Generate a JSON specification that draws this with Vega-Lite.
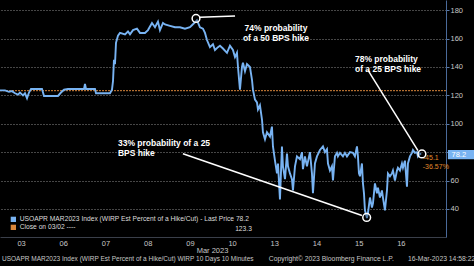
{
  "$schema": "https://vega.github.io/schema/vega-lite/v6.json",
  "width": 446,
  "height": 237,
  "padding": {"left": 0, "top": 0, "right": 28, "bottom": 29},
  "autosize": {"type": "none"},
  "background": "#000000",
  "config": {
    "view": {"stroke": null},
    "font": "Liberation Sans",
    "text": {"font": "Liberation Sans"},
    "axisY": {
      "orient": "right",
      "values": [30, 40, 50, 60, 70, 80, 90, 100, 110, 120, 130, 140, 150, 160, 170, 180],
      "labelExpr": "(datum.value % 20 == 0 && datum.value != 80) ? datum.label : ''",
      "labelOverlap": false,
      "grid": true,
      "gridDash": [1, 2],
      "gridColor": {"condition": {"test": "datum.value % 20 == 0", "value": "#8c8c8c"}, "value": "#000000"},
      "gridWidth": 1,
      "tickSize": {"condition": {"test": "datum.value % 20 == 0", "value": 3}, "value": 2},
      "tickColor": "#5a7aa8",
      "domainColor": "#4a6a9a", "domainWidth": 1,
      "labelColor": "#c8c8c8", "labelFontSize": 7.5, "labelPadding": 1,
      "labelFont": "Liberation Sans",
      "title": null
    }
  },
  "datasets": {
    "series": [
      {"t":0,"v":123.5},{"t":0.118,"v":123.5},{"t":0.213,"v":122.5},{"t":0.284,"v":123},{"t":0.355,"v":121.5},{"t":0.427,"v":120.5},{"t":0.474,"v":122},{"t":0.545,"v":120},{"t":0.592,"v":121.5},{"t":0.64,"v":118},{"t":0.687,"v":122},{"t":0.735,"v":124.5},{"t":0.853,"v":124.5},{"t":0.995,"v":124.5},
      {"t":1.043,"v":119.6},{"t":1.185,"v":119.6},{"t":1.374,"v":119.6},{"t":1.445,"v":122},{"t":1.517,"v":124},{"t":1.611,"v":124.5},{"t":1.777,"v":124.5},{"t":1.991,"v":124.5},{"t":2.014,"v":128},{"t":2.038,"v":124.5},{"t":2.251,"v":124.5},{"t":2.275,"v":121.5},{"t":2.488,"v":121.5},{"t":2.607,"v":121.5},{"t":2.654,"v":124},{"t":2.678,"v":130},{"t":2.701,"v":145},{"t":2.725,"v":142},{"t":2.749,"v":157},{"t":2.796,"v":162},{"t":2.844,"v":164},{"t":2.962,"v":163},{"t":3.033,"v":165},{"t":3.081,"v":163},{"t":3.152,"v":166},{"t":3.246,"v":167},{"t":3.318,"v":164},{"t":3.436,"v":164},{"t":3.507,"v":166},{"t":3.602,"v":171},{"t":3.673,"v":168},{"t":3.744,"v":172},{"t":3.791,"v":166},{"t":3.863,"v":171},{"t":3.91,"v":170},{"t":4.028,"v":169},{"t":4.147,"v":168},{"t":4.265,"v":168},{"t":4.384,"v":167},{"t":4.502,"v":168},{"t":4.621,"v":171.5},{"t":4.668,"v":173},{"t":4.739,"v":168},{"t":4.81,"v":167},{"t":4.858,"v":164},{"t":4.905,"v":159},{"t":4.976,"v":154},{"t":5.047,"v":156},{"t":5.095,"v":152},{"t":5.166,"v":154},{"t":5.213,"v":155},{"t":5.284,"v":153},{"t":5.379,"v":150},{"t":5.45,"v":155},{"t":5.521,"v":152},{"t":5.569,"v":147},{"t":5.616,"v":150},{"t":5.64,"v":140},{"t":5.687,"v":124},{"t":5.735,"v":140},{"t":5.758,"v":143},{"t":5.806,"v":137},{"t":5.853,"v":142},{"t":5.924,"v":140},{"t":5.972,"v":131},{"t":5.995,"v":124},{"t":6.043,"v":117},{"t":6.09,"v":115},{"t":6.114,"v":110},{"t":6.161,"v":113},{"t":6.209,"v":103},{"t":6.232,"v":94},{"t":6.28,"v":89},{"t":6.327,"v":94},{"t":6.398,"v":91},{"t":6.445,"v":98},{"t":6.469,"v":84},{"t":6.517,"v":74},{"t":6.564,"v":65},{"t":6.588,"v":72},{"t":6.635,"v":46.6},{"t":6.682,"v":84},{"t":6.706,"v":70},{"t":6.754,"v":61},{"t":6.801,"v":79},{"t":6.825,"v":70},{"t":6.872,"v":65},{"t":6.919,"v":61},{"t":6.943,"v":53},{"t":6.991,"v":70},{"t":7.038,"v":77},{"t":7.109,"v":75},{"t":7.156,"v":80},{"t":7.18,"v":68},{"t":7.227,"v":77},{"t":7.275,"v":70},{"t":7.346,"v":80},{"t":7.393,"v":65},{"t":7.417,"v":51},{"t":7.464,"v":72},{"t":7.512,"v":77},{"t":7.583,"v":81.5},{"t":7.654,"v":84},{"t":7.701,"v":80},{"t":7.749,"v":82},{"t":7.773,"v":72},{"t":7.82,"v":67},{"t":7.867,"v":70},{"t":7.891,"v":60},{"t":7.938,"v":77},{"t":7.986,"v":79.5},{"t":8.009,"v":77},{"t":8.057,"v":79.5},{"t":8.128,"v":77},{"t":8.175,"v":79.5},{"t":8.223,"v":77},{"t":8.294,"v":80},{"t":8.365,"v":79.5},{"t":8.412,"v":77},{"t":8.46,"v":84},{"t":8.483,"v":77},{"t":8.507,"v":65},{"t":8.531,"v":63},{"t":8.578,"v":72},{"t":8.602,"v":58},{"t":8.626,"v":51},{"t":8.649,"v":39},{"t":8.697,"v":33.5},{"t":8.72,"v":37},{"t":8.768,"v":48},{"t":8.815,"v":41},{"t":8.839,"v":44},{"t":8.886,"v":58},{"t":8.934,"v":51},{"t":8.957,"v":55},{"t":9.005,"v":48},{"t":9.052,"v":53},{"t":9.076,"v":48},{"t":9.123,"v":39},{"t":9.171,"v":53},{"t":9.194,"v":65},{"t":9.242,"v":63},{"t":9.289,"v":65},{"t":9.313,"v":67},{"t":9.36,"v":60},{"t":9.408,"v":67},{"t":9.431,"v":69},{"t":9.479,"v":67},{"t":9.526,"v":72},{"t":9.55,"v":69},{"t":9.597,"v":74},{"t":9.645,"v":55.6},{"t":9.668,"v":72},{"t":9.716,"v":77},{"t":9.763,"v":79.5},{"t":9.787,"v":81.5},{"t":9.834,"v":79.5},{"t":9.882,"v":80},{"t":9.905,"v":77},{"t":9.953,"v":79},{"t":9.976,"v":78.2}
    ],
    "pointers": [
      {"t1":4.74,"v1":175.1,"t2":5.57,"v2":176},
      {"t1":8.72,"v1":137.8,"t2":9.905,"v2":81},
      {"t1":4.336,"v1":78.9,"t2":8.578,"v2":35.4}
    ],
    "circles": [
      {"t":4.645,"v":174.2},
      {"t":8.69,"v":34},
      {"t":10.0,"v":78.7}
    ],
    "notesCenter": [
      {"t":6.54,"v":167.4,"label":"74% probability\nof a 50 BPS hike"}
    ],
    "notesLeft": [
      {"t":8.412,"v":145.8,"label":"78% probability\nof a 25 BPS hike"},
      {"t":2.796,"v":86.6,"label":"33% probability of a 25\nBPS hike"}
    ],
    "footerLeft": [
      {"t":0.047,"v":4.7,"label":"USOAPR MAR2023 Index (WIRP Est Percent of a Hike/Cut) WIRP 10 Days 10 Minutes"}
    ],
    "footerRight": [
      {"t":6.37,"v":4.7,"label":"Copyright© 2023 Bloomberg Finance L.P."},
      {"t":9.67,"v":4.7,"label":"16-Mar-2023 14:58:22"}
    ],
    "changes": [
      {"t":10.02,"v":75.9,"label":"-45.1"},
      {"t":10.02,"v":69.5,"label":"-36.57%"}
    ]
  },
  "encoding": {
    "y": {
      "type": "quantitative",
      "scale": {"domain": [20.2, 187.2], "nice": false, "zero": false}
    }
  },
  "layer": [
    {
      "data": {"values": [{"v": 123.3}]},
      "mark": {"type": "rule", "strokeWidth": 1, "strokeDash": [2, 1]},
      "encoding": {
        "y": {"field": "v", "type": "quantitative", "scale": {"domain": [20.2, 187.2], "nice": false, "zero": false}},
        "color": {"datum": "Close on 03/02"}
      }
    },
    {
      "data": {"name": "series"},
      "mark": {"type": "line", "strokeWidth": 1.9, "interpolate": "linear"},
      "encoding": {
        "x": {
          "field": "t", "type": "quantitative",
          "scale": {"domain": [0, 10.57], "nice": false, "zero": false},
          "axis": {
            "orient": "bottom",
            "values": [0.5, 1.5, 2.5, 3.5, 4.5, 5.5, 6.5, 7.5, 8.5, 9.5],
            "labelExpr": "['03','06','07','08','09','10','13','14','15','16'][floor(datum.value)]",
            "grid": false, "ticks": false,
            "domainColor": "#3a3f4a", "domainWidth": 1,
            "labelColor": "#c8c8c8", "labelFontSize": 7.5, "labelPadding": 2,
            "labelFont": "Liberation Sans",
            "title": "Mar 2023", "titleColor": "#c8c8c8", "titleFontSize": 7.5,
            "titleFontWeight": "normal", "titleFont": "Liberation Sans",
            "titleX": 212, "titlePadding": 0
          }
        },
        "y": {"field": "v", "type": "quantitative"},
        "color": {
          "datum": "USOAPR MAR2023 Index (WIRP Est Percent of a Hike/Cut)",
          "scale": {
            "domain": ["USOAPR MAR2023 Index (WIRP Est Percent of a Hike/Cut)", "Close on 03/02"],
            "range": ["#78b3f2", "#d9863a"]
          },
          "legend": {
            "orient": "none", "legendX": 10, "legendY": 216,
            "title": null,
            "symbolType": "square", "symbolSize": 28,
            "labelColor": "#dddddd", "labelFontSize": 6.7, "labelFont": "Liberation Sans",
            "labelOffset": 3, "rowPadding": 0, "labelLimit": 400,
            "labelExpr": "datum.label == 'Close on 03/02' ? 'Close on 03/02 ----' : datum.label + ' - Last Price 78.2'",
            "encode": {
              "symbols": {"update": {"fill": {"scale": "color", "field": "value"}, "strokeWidth": {"value": 0}}}
            }
          }
        }
      }
    },
    {
      "data": {"name": "pointers"},
      "mark": {"type": "rule", "color": "#ffffff", "strokeWidth": 1.5},
      "encoding": {
        "x": {"field": "t1", "type": "quantitative"},
        "y": {"field": "v1", "type": "quantitative"},
        "x2": {"field": "t2"},
        "y2": {"field": "v2"}
      }
    },
    {
      "data": {"name": "circles"},
      "mark": {"type": "point", "shape": "circle", "size": 60, "stroke": "#ffffff", "strokeWidth": 1.5, "fill": "#000000", "fillOpacity": 0.3, "opacity": 1},
      "encoding": {
        "x": {"field": "t", "type": "quantitative"},
        "y": {"field": "v", "type": "quantitative"}
      }
    },
    {
      "data": {"name": "notesCenter"},
      "mark": {"type": "text", "align": "center", "baseline": "middle", "color": "#ffffff", "fontWeight": "bold", "fontSize": 8.5, "lineBreak": "\n", "lineHeight": 10},
      "encoding": {
        "x": {"field": "t", "type": "quantitative"},
        "y": {"field": "v", "type": "quantitative"},
        "text": {"field": "label"}
      }
    },
    {
      "data": {"name": "notesLeft"},
      "mark": {"type": "text", "align": "left", "baseline": "middle", "color": "#ffffff", "fontWeight": "bold", "fontSize": 8.5, "lineBreak": "\n", "lineHeight": 10},
      "encoding": {
        "x": {"field": "t", "type": "quantitative"},
        "y": {"field": "v", "type": "quantitative"},
        "text": {"field": "label"}
      }
    },
    {
      "data": {"values": [{"t1": 10.616, "t2": 11.25, "v1": 81.5, "v2": 75.0}]},
      "mark": {"type": "rect", "color": "#78b3f2"},
      "encoding": {
        "x": {"field": "t1", "type": "quantitative"},
        "x2": {"field": "t2"},
        "y": {"field": "v1", "type": "quantitative"},
        "y2": {"field": "v2"}
      }
    },
    {
      "data": {"values": [{"t": 10.7, "v": 78.2, "label": "78.2"}]},
      "mark": {"type": "text", "align": "left", "baseline": "middle", "color": "#ffffff", "fontSize": 7.5},
      "encoding": {
        "x": {"field": "t", "type": "quantitative"},
        "y": {"field": "v", "type": "quantitative"},
        "text": {"field": "label"}
      }
    },
    {
      "data": {"name": "changes"},
      "mark": {"type": "text", "align": "left", "baseline": "middle", "color": "#e08a2c", "fontSize": 7},
      "encoding": {
        "x": {"field": "t", "type": "quantitative"},
        "y": {"field": "v", "type": "quantitative"},
        "text": {"field": "label"}
      }
    },
    {
      "data": {"values": [{"t": 5.97, "v": 25.8, "label": "123.3"}]},
      "mark": {"type": "text", "align": "right", "baseline": "middle", "color": "#dddddd", "fontSize": 6.7},
      "encoding": {
        "x": {"field": "t", "type": "quantitative"},
        "y": {"field": "v", "type": "quantitative"},
        "text": {"field": "label"}
      }
    },
    {
      "data": {"name": "footerLeft"},
      "mark": {"type": "text", "align": "left", "baseline": "middle", "color": "#c8c8c8", "fontSize": 6.5},
      "encoding": {
        "x": {"field": "t", "type": "quantitative"},
        "y": {"field": "v", "type": "quantitative"},
        "text": {"field": "label"}
      }
    },
    {
      "data": {"name": "footerRight"},
      "mark": {"type": "text", "align": "left", "baseline": "middle", "color": "#c8c8c8", "fontSize": 6.8},
      "encoding": {
        "x": {"field": "t", "type": "quantitative"},
        "y": {"field": "v", "type": "quantitative"},
        "text": {"field": "label"}
      }
    }
  ]
}
